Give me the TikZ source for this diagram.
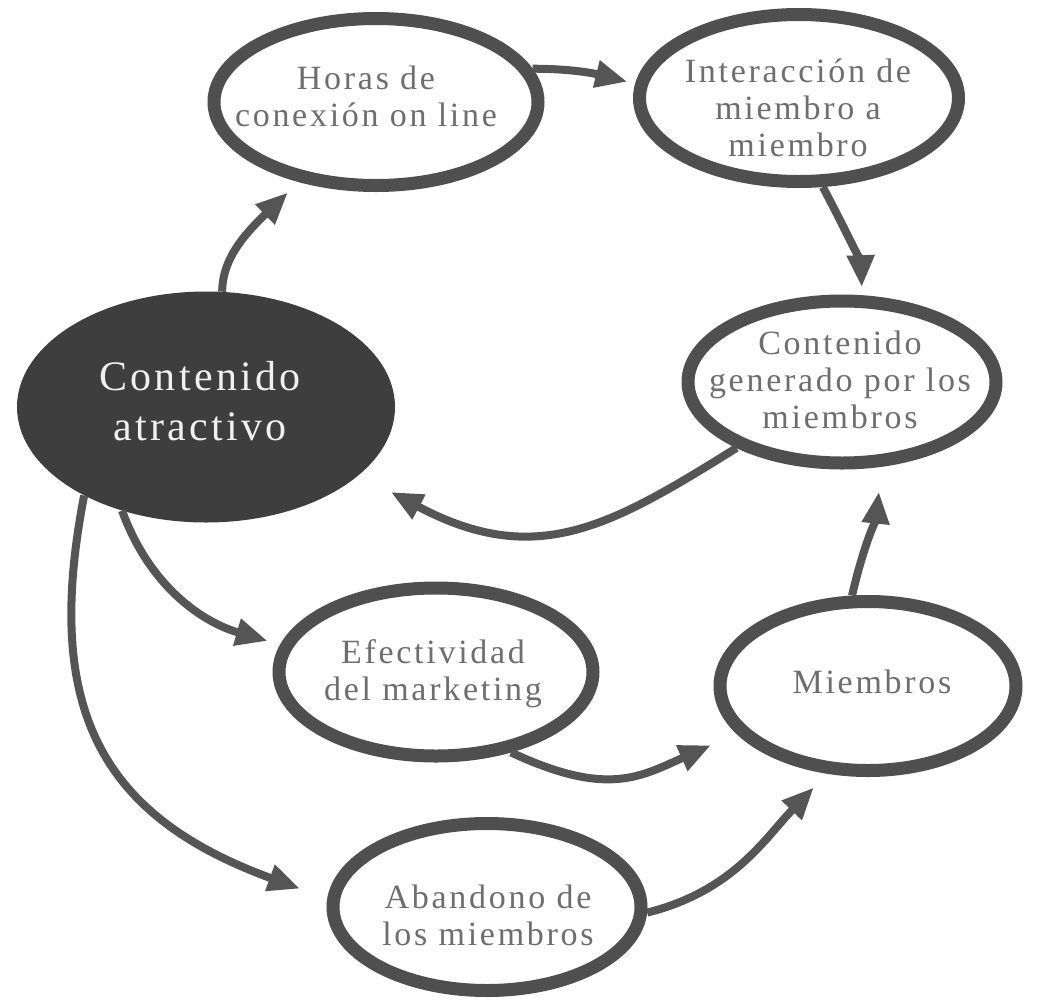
\documentclass[tikz,border=0pt]{standalone}
\usepackage{fontspec}
\setmainfont{Liberation Serif}[LetterSpace=8.0]
\usetikzlibrary{shapes.geometric,arrows.meta}
\definecolor{ringc}{HTML}{4F4F4F}
\definecolor{arrc}{HTML}{555555}
\definecolor{textc}{HTML}{6E6E6E}
\definecolor{darkc}{HTML}{3E3E3E}
\definecolor{lightc}{HTML}{F0F0F0}
\begin{document}
\begin{tikzpicture}[x=1pt,y=1pt,
  ring/.style={ellipse, draw=ringc, line width=13pt, fill=white, inner sep=0pt},
  darkring/.style={ellipse, fill=darkc, inner sep=0pt},
  txt/.style={align=center, text=textc, inner sep=0pt, font=\fontsize{34}{37}\selectfont},
  darktxt/.style={align=center, text=lightc, inner sep=0pt, font=\fontsize{42}{50}\selectfont},
  conn/.style={draw=arrc, line width=8pt, -{Triangle[length=32pt,width=26pt]}}
]
\fill[white] (0,0) rectangle (1041,-999);
\useasboundingbox (0,0) rectangle (1041,-999);

% nodes
\node[ring, minimum width=324pt, minimum height=167pt] (horas) at (376,-102) {};
\node[txt] (horas-t) at (366,-96.6) {Horas de\\conexión on line};

\node[ring, minimum width=319pt, minimum height=167pt] (inter) at (799,-98) {};
\node[txt] (inter-t) at (798,-107.6) {Interacción de\\miembro a\\miembro};

\node[ring, minimum width=308pt, minimum height=162pt] (gen) at (842,-382) {};
\node[txt] (gen-t) at (840,-379.6) {Contenido\\generado por los\\miembros};

\node[darkring, minimum width=378pt, minimum height=231pt] (atr) at (206,-407) {};
\node[darktxt] (atr-t) at (200,-401.3) {Contenido\\atractivo};

\node[ring, minimum width=314pt, minimum height=168pt] (efe) at (436,-672) {};
\node[txt] (efe-t) at (433,-673.6) {Efectividad\\del marketing};

\node[ring, minimum width=296pt, minimum height=169pt] (miem) at (868,-686) {};
\node[txt] (miem-t) at (872,-681.4) {Miembros};

\node[ring, minimum width=308pt, minimum height=167pt] (aban) at (487,-907) {};
\node[txt] (aban-t) at (488,-915.6) {Abandono de\\los miembros};

% connectors
\draw[conn, shorten >=15pt] (atr.82) .. controls +(90:35pt) and +(224:70pt) .. (horas.226);
\draw[conn, shorten >=8pt] (horas.12) to[out=0,in=166] (inter.175);
\draw[conn, shorten >=8pt] (inter.285) .. controls +(-62:55pt) and +(92:30pt) .. (gen.77);
\draw[conn, shorten >=36pt] (gen.212) .. controls +(212:150pt) and +(332:200pt) .. (atr.336);
\draw[conn, shorten >=13pt] (atr.231) to[out=-70,in=164] (efe.170);
\draw[conn, shorten >=29pt] (atr.216) .. controls +(259:216pt) and +(160:242pt) .. (aban.177);
\draw[conn, shorten >=28pt] (efe.-47) to[out=-25,in=204,looseness=1.2] (miem.200);
\draw[conn, shorten >=19pt] (aban.-2) to[out=14,in=226] (miem.245);
\draw[conn, shorten >=25pt] (miem.100) to[out=77,in=264] (gen.295);
\end{tikzpicture}
\end{document}
